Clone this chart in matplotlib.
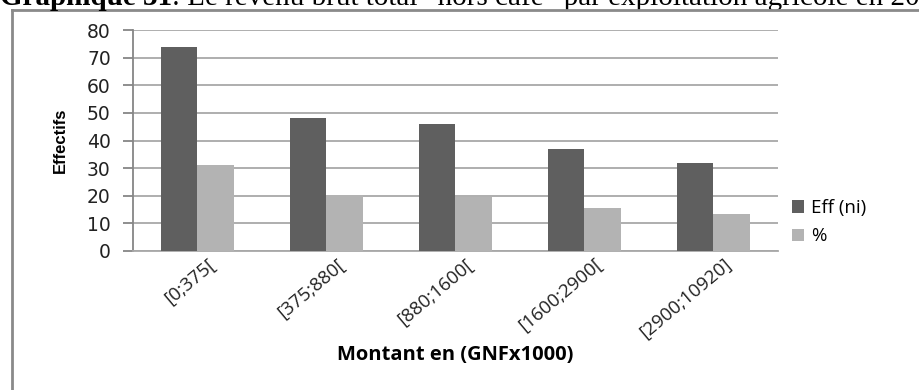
import numpy as np
import matplotlib
matplotlib.use("Agg")
import matplotlib.pyplot as plt
import matplotlib.transforms as mtransforms
from matplotlib.lines import Line2D

# donnees
classes = ["[0;375[", "[375;880[", "[880;1600[", "[1600;2900[", "[2900;10920]"]
eff = [74, 48, 46, 37, 32]
pct = [31.2, 20.3, 19.4, 15.6, 13.5]
series_names = ["Eff (ni)", "%"]
yticks = [0, 10, 20, 30, 40, 50, 60, 70, 80]

plt.rcParams['font.family'] = ['DejaVu Sans']

fig = plt.figure(figsize=(9.2, 3.9), dpi=100)
ax = fig.add_axes([133/920, 1 - 251/390, 645/920, 221/390])

x = np.arange(len(classes))
w = 0.283
ax.bar(x - w/2, eff, w, color="#5f5f5f", label=series_names[0], zorder=3)
ax.bar(x + w/2, pct, w, color="#b3b3b3", label=series_names[1], zorder=3)

ax.set_xlim(-0.5, len(classes) - 0.5)
ax.set_ylim(0, 80)
ax.set_yticks(yticks)
ax.yaxis.grid(True, color="#a8a8a8", linewidth=1.3, zorder=0)
ax.set_axisbelow(True)
for s in ["top", "right"]:
    ax.spines[s].set_visible(False)
ax.spines["left"].set_color("#868686")
ax.spines["bottom"].set_color("#a8a8a8")
ax.spines["left"].set_linewidth(1.3)
ax.spines["bottom"].set_linewidth(1.3)
ax.tick_params(axis="y", length=7, color="#868686", width=1.3, pad=9,
               labelsize=13.5, labelcolor="#222222")
ax.tick_params(axis="x", length=0, pad=3)
ax.set_xticks(x)
ax.set_xticklabels(classes, rotation=40, ha="right", va="top",
                   rotation_mode="anchor", fontsize=13.5, color="#222222",
                   family=["Open Sans", "DejaVu Sans"])
decal = mtransforms.ScaledTranslation(10/100, 0, fig.dpi_scale_trans)
for lab in ax.get_xticklabels():
    lab.set_transform(lab.get_transform() + decal)

ax.set_ylabel("Effectifs", fontsize=12, fontweight="bold",
              family=["Liberation Sans", "DejaVu Sans"], labelpad=14)
ax.set_xlabel("Montant en (GNFx1000)", fontsize=14.5, fontweight="bold",
              family=["Open Sans", "DejaVu Sans"], labelpad=2)

ax.legend(loc="center left", bbox_to_anchor=(0.995, 0.13), frameon=False,
          prop={"family": ["Open Sans", "DejaVu Sans"], "size": 13.5},
          handlelength=0.65, handleheight=0.65,
          handletextpad=0.4, labelspacing=0.55)

# cadre
fig.add_artist(Line2D([12/920, 12/920], [0, 1 - 10/390], color="#8a8a8a",
                      linewidth=2, transform=fig.transFigure))
fig.add_artist(Line2D([12/920, 1], [1 - 10/390, 1 - 10/390], color="#8a8a8a",
                      linewidth=2, transform=fig.transFigure))

# titre (coupe en haut comme sur l'original)
t1 = fig.text(0.0, 1 - 11/390, "Graphique 31", fontsize=21, fontweight="bold",
              family="Liberation Serif", va="bottom", ha="left")
ax.annotate(": Le revenu brut total \u201chors café\u201d par exploitation agricole en 2011",
            xy=(1, 0), xycoords=t1, va="bottom", ha="left",
            fontsize=21, family="Liberation Serif", annotation_clip=False)

fig.savefig("out.png", dpi=100)
